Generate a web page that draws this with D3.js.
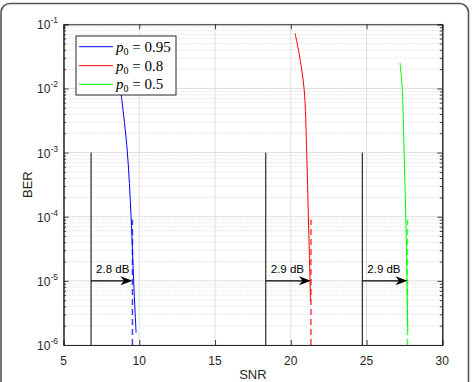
<!DOCTYPE html>
<html><head><meta charset="utf-8">
<script src="https://cdn.jsdelivr.net/npm/d3@7"></script>
<style>body{margin:0;background:#fff}svg{display:block}</style>
</head><body>
<svg id="c" width="472" height="382"></svg>
<script>
const xTicks = [5, 10, 15, 20, 25, 30];
const yTicks = [1e-6, 1e-5, 1e-4, 1e-3, 1e-2, 1e-1];
const yTickExp = ["-6", "-5", "-4", "-3", "-2", "-1"];

const seriesNames = ["p0 = 0.95", "p0 = 0.8", "p0 = 0.5"];
const seriesValues = ["0.95", "0.8", "0.5"];
const seriesColors = ["#0000ff", "#ff0000", "#00ff00"];

const blueSNR = [8.70, 8.84, 9.21, 9.46, 9.63, 9.79];
const blueBER = [1.2e-2, 6.9e-3, 1.05e-3, 1e-4, 1e-5, 1.55e-6];
const redSNR = [20.28, 20.55, 20.88, 21.05, 21.16, 21.27, 21.30];
const redBER = [0.072, 0.035, 9.8e-3, 1e-3, 1e-4, 1e-5, 4.7e-6];
const greenSNR = [27.21, 27.36, 27.48, 27.59, 27.67, 27.72];
const greenBER = [0.025, 9.5e-3, 1e-3, 1e-4, 1e-5, 1.7e-6];

const dashedSNR = [9.55, 21.33, 27.70];
const dashedBER = [1e-6, 9e-5];
const refSNR = [6.82, 18.35, 24.72];
const refBER = [1e-6, 1e-3];
const arrowBER = 1e-5;
const gapLabels = ["2.8 dB", "2.9 dB", "2.9 dB"];

const svg = d3.select("#c");
const L = 63.5, R = 442.3, T = 24.3, B = 345;
const x = d3.scaleLinear().domain([5, 30]).range([L, R]);
const y = d3.scaleLog().domain([1e-6, 1e-1]).range([B, T]);
const axisColor = "#262626";
const font = "'Liberation Sans', Arial, Helvetica, sans-serif";

// figure frame
svg.append("rect").attr("x", 1).attr("y", 3.5).attr("width", 467.5).attr("height", 395)
  .attr("rx", 9).attr("fill", "#fff").attr("stroke", "#555").attr("stroke-width", 1.6);

// plot background
svg.append("rect").attr("x", L).attr("y", T).attr("width", R - L).attr("height", B - T).attr("fill", "#fff");

// minor y grid
const minorY = [];
for (let e = -6; e < -1; e++) for (let m = 2; m <= 9; m++) minorY.push(m * Math.pow(10, e));
const g = svg.append("g");
g.selectAll("line.my").data(minorY).join("line")
  .attr("x1", L).attr("x2", R).attr("y1", d => y(d)).attr("y2", d => y(d))
  .attr("stroke", "#c8c8c8").attr("stroke-width", 0.8).attr("stroke-dasharray", "1,2");
// major grid
g.selectAll("line.gy").data(yTicks).join("line")
  .attr("x1", L).attr("x2", R).attr("y1", d => y(d)).attr("y2", d => y(d))
  .attr("stroke", "#dfdfdf").attr("stroke-width", 1);
g.selectAll("line.gx").data(xTicks).join("line")
  .attr("y1", T).attr("y2", B).attr("x1", d => x(d)).attr("x2", d => x(d))
  .attr("stroke", "#dfdfdf").attr("stroke-width", 1);

// axes with inward ticks
const axB = d3.axisBottom(x).tickValues(xTicks).tickSize(-5).tickFormat("");
const axT = d3.axisTop(x).tickValues(xTicks).tickSize(-5).tickFormat("");
const axL = d3.axisLeft(y).tickValues(yTicks).tickSize(-5).tickFormat("");
const axR = d3.axisRight(y).tickValues(yTicks).tickSize(-5).tickFormat("");
const axLm = d3.axisLeft(y).tickValues(minorY).tickSize(-2.5).tickFormat("");
const axRm = d3.axisRight(y).tickValues(minorY).tickSize(-2.5).tickFormat("");
function styleAx(sel){ sel.selectAll("path,line").attr("stroke", axisColor).attr("stroke-width", 0.9); sel.select(".domain").attr("stroke-width", 1); }
svg.append("g").attr("transform", `translate(0,${B})`).call(axB).call(styleAx);
svg.append("g").attr("transform", `translate(0,${T})`).call(axT).call(styleAx);
svg.append("g").attr("transform", `translate(${L},0)`).call(axL).call(styleAx);
svg.append("g").attr("transform", `translate(${R},0)`).call(axR).call(styleAx);
svg.append("g").attr("transform", `translate(${L},0)`).call(axLm).call(styleAx);
svg.append("g").attr("transform", `translate(${R},0)`).call(axRm).call(styleAx);

// tick labels
svg.selectAll("text.xt").data(xTicks).join("text")
  .attr("x", d => x(d)).attr("y", 364.5).attr("text-anchor", "middle")
  .attr("font-family", font).attr("font-size", 12).attr("fill", "#262626").text(d => d);
const yt = svg.selectAll("text.yt").data(yTicks).join("text")
  .attr("x", 58).attr("y", d => y(d) + 5).attr("text-anchor", "end")
  .attr("font-family", font).attr("font-size", 12).attr("fill", "#262626");
yt.append("tspan").text("10");
yt.append("tspan").attr("dy", -6).attr("font-size", 8.5).text((d, i) => yTickExp[i]);

// axis titles
svg.append("text").attr("x", (L + R) / 2).attr("y", 379).attr("text-anchor", "middle")
  .attr("font-family", font).attr("font-size", 13).attr("fill", "#262626").text("SNR");
svg.append("text").attr("transform", `translate(31.5,${(T + B) / 2}) rotate(-90)`).attr("text-anchor", "middle")
  .attr("font-family", font).attr("font-size", 13).attr("fill", "#262626").text("BER");

// clip
svg.append("clipPath").attr("id", "clip").append("rect").attr("x", L).attr("y", T).attr("width", R - L).attr("height", B - T);
const pg = svg.append("g").attr("clip-path", "url(#clip)");

const line = d3.line().x(d => x(d[0])).y(d => y(d[1])).curve(d3.curveCatmullRom);
const curves = [
  d3.zip(blueSNR, blueBER),
  d3.zip(redSNR, redBER),
  d3.zip(greenSNR, greenBER)
];
curves.forEach((c, i) => {
  pg.append("path").datum(c).attr("d", line).attr("fill", "none")
    .attr("stroke", seriesColors[i]).attr("stroke-width", 1);
});
// dashed limits
dashedSNR.forEach((s, i) => {
  pg.append("line").attr("x1", x(s)).attr("x2", x(s)).attr("y1", y(dashedBER[0])).attr("y2", y(dashedBER[1]))
    .attr("stroke", seriesColors[i]).attr("stroke-width", 1.5).attr("stroke-dasharray", "6,4").attr("opacity", 0.75);
});
// reference black lines
refSNR.forEach(s => {
  pg.append("line").attr("x1", x(s)).attr("x2", x(s)).attr("y1", y(refBER[0])).attr("y2", y(refBER[1]))
    .attr("stroke", "#000").attr("stroke-width", 1);
});
// arrows + labels
refSNR.forEach((s, i) => {
  const x1 = x(s), x2 = x(dashedSNR[i]), yy = y(arrowBER);
  svg.append("line").attr("x1", x1).attr("x2", x2 - 6).attr("y1", yy).attr("y2", yy)
    .attr("stroke", "#000").attr("stroke-width", 1.4);
  svg.append("path").attr("d", `M${x2},${yy} L${x2 - 12},${yy - 4.5} L${x2 - 8.5},${yy} L${x2 - 12},${yy + 4.5} Z`)
    .attr("fill", "#000");
  svg.append("text").attr("x", x1 + 5).attr("y", yy - 8).attr("font-family", font).attr("font-size", 11.5)
    .attr("fill", "#000").text(gapLabels[i]);
});

// legend
const lg = svg.append("g");
lg.append("rect").attr("x", 76).attr("y", 36).attr("width", 100).attr("height", 59)
  .attr("fill", "#fff").attr("stroke", "#262626").attr("stroke-width", 1);
const rowsY = [46.7, 65.7, 84.3];
seriesNames.forEach((n, i) => {
  lg.append("line").attr("x1", 79).attr("x2", 113).attr("y1", rowsY[i]).attr("y2", rowsY[i])
    .attr("stroke", seriesColors[i]).attr("stroke-width", 1);
  const t = lg.append("text").attr("x", 116).attr("y", rowsY[i] + 5)
    .attr("font-family", "'Liberation Serif', 'Times New Roman', serif").attr("font-size", 15).attr("fill", "#000");
  t.append("tspan").attr("font-style", "italic").text("p");
  t.append("tspan").attr("font-size", 10).attr("dy", 3).text("0");
  t.append("tspan").attr("dy", -3).text(" = " + seriesValues[i]);
});
</script>
</body></html>
